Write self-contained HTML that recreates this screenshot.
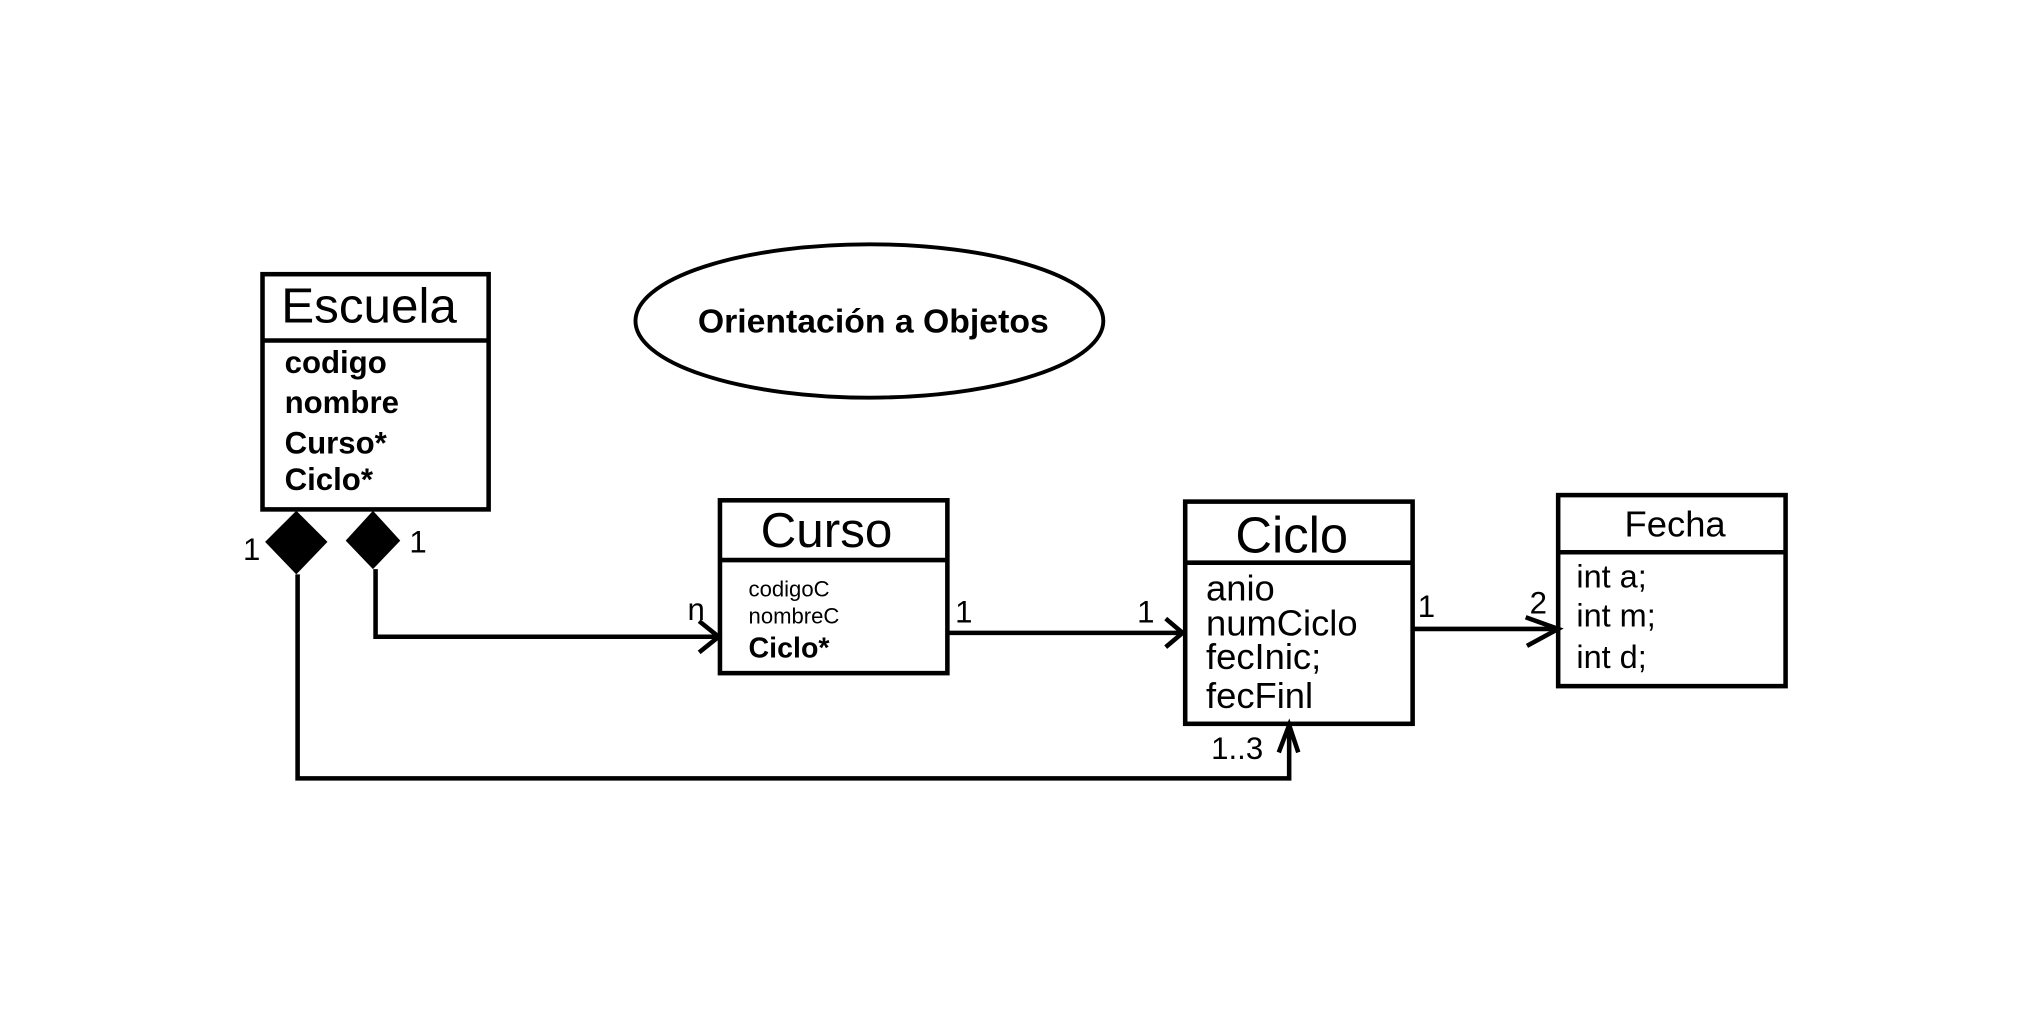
<!DOCTYPE html>
<html><head><meta charset="utf-8"><style>html,body{margin:0;padding:0;background:#fff;}svg{display:block}</style></head>
<body>
<svg width="2039" height="1011" viewBox="0 0 1569 778" preserveAspectRatio="none" xmlns="http://www.w3.org/2000/svg" font-family="Liberation Sans, Arial, sans-serif">
<rect width="1569" height="778" fill="#fff"/>
<g fill="none" stroke="#000" stroke-width="3.5">
<rect x="202" y="211" width="174" height="181"/>
<line x1="202" y1="262" x2="376" y2="262"/>
<rect x="554" y="385" width="175" height="133"/>
<line x1="554" y1="431" x2="729" y2="431"/>
<rect x="912" y="386" width="175" height="171"/>
<line x1="912" y1="433" x2="1088" y2="433"/>
<rect x="1199" y="381" width="175" height="147"/>
<line x1="1199" y1="425" x2="1374" y2="425"/>
<ellipse cx="669" cy="247" rx="180" ry="59" stroke-width="3"/>
<polyline points="289,438 289,490 553,490"/>
<polyline points="538,478 553,490 538,502"/>
<polyline points="229,442 229,599 992,599 992,558"/>
<polyline points="984,579 992,558 999,579"/>
<line x1="729" y1="487" x2="910" y2="487"/>
<polyline points="897,476 910,487 897,498"/>
<line x1="1087" y1="484" x2="1199" y2="484"/>
<polyline points="1174,475 1199,484 1175,497"/>
</g>
<polygon points="228,393 252,417 228,442 204,417" fill="#000"/>
<polygon points="287,393 308,416 287,438 266,416" fill="#000"/>
<g fill="#000">
<text x="284" y="248" font-size="38" text-anchor="middle">Escuela</text>
<g font-size="24" font-weight="bold">
<text x="219" y="287">codigo</text>
<text x="219" y="318">nombre</text>
<text x="219" y="349">Curso*</text>
<text x="219" y="377">Ciclo*</text>
</g>
<text x="672" y="256" font-size="26" font-weight="bold" text-anchor="middle">Orientación a Objetos</text>
<text x="636" y="421" font-size="38" text-anchor="middle">Curso</text>
<text x="576" y="459" font-size="17">codigoC</text>
<text x="576" y="480" font-size="17">nombreC</text>
<text x="576" y="506" font-size="22" font-weight="bold">Ciclo*</text>
<text x="994" y="425" font-size="39" text-anchor="middle">Ciclo</text>
<g font-size="28">
<text x="928" y="462">anio</text>
<text x="928" y="489">numCiclo</text>
<text x="928" y="515">fecInic;</text>
<text x="928" y="545">fecFinl</text>
</g>
<text x="1289" y="413" font-size="28" text-anchor="middle">Fecha</text>
<g font-size="25">
<text x="1213" y="452">int a;</text>
<text x="1213" y="482">int m;</text>
<text x="1213" y="514">int d;</text>
</g>
<g font-size="24">
<text x="187" y="431">1</text>
<text x="315" y="425">1</text>
<text x="529" y="477">n</text>
<text x="735" y="479">1</text>
<text x="875" y="479">1</text>
<text x="1091" y="475">1</text>
<text x="1177" y="472">2</text>
<text x="932" y="584">1..3</text>
</g>
</g>
</svg>
</body></html>
